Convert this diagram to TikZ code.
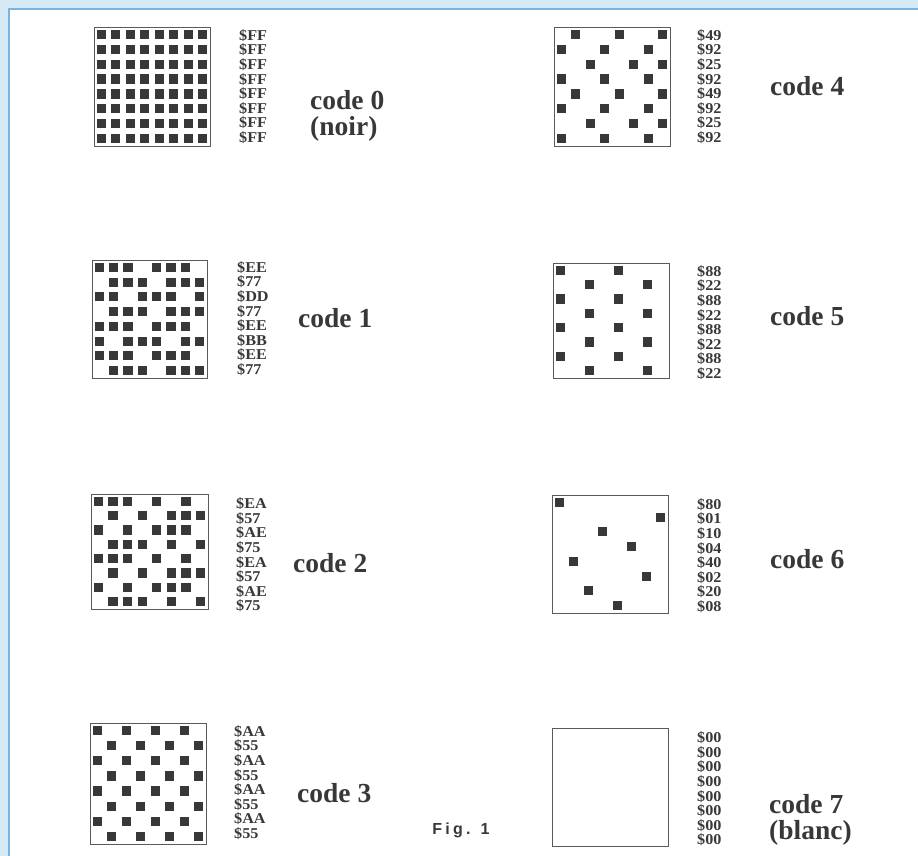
\documentclass[tikz,border=0pt]{standalone}
\usepackage{fontspec}
\setmainfont{Liberation Serif}
\newfontfamily\figfont[LetterSpace=20]{Liberation Sans}
\newfontfamily\hexfont[FakeStretch=1.08]{Liberation Serif}
\definecolor{frameblue}{HTML}{7AB4DC}
\definecolor{outerblue}{HTML}{D6EAF6}
\definecolor{ink}{HTML}{383838}
\definecolor{boxline}{HTML}{5A5A5A}
\tikzset{
  gridbox/.style={draw=boxline, line width=0.9pt, minimum width=116pt,
    minimum height=118pt, anchor=north west, inner sep=0pt},
  dotsq/.style={fill=ink},
  hexlab/.style={anchor=west, align=left, inner sep=0pt, text=ink,
    font=\fontsize{15}{14.6}\hexfont\bfseries},
  codelab/.style={anchor=west, align=left, inner sep=0pt, text=ink,
    font=\fontsize{27.5}{25.5}\selectfont\bfseries},
  figlab/.style={inner sep=0pt, text=ink, font=\fontsize{16}{18}\figfont\bfseries},
}
% #1 x0, #2 y0, #3 w, #4 h, #5 list of 8 row values (MSB left)
\newcommand\mydotgrid[5]{%
  \foreach \v [count=\r from 0] in {#5} {%
    \foreach \c in {0,...,7} {%
      \pgfmathtruncatemacro\bit{mod(floor(\v/2^(7-\c)),2)}%
      \ifnum\bit=1
        \pgfmathsetmacro\cx{#1+(\c+0.5)*#3/8}%
        \pgfmathsetmacro\cy{#2+(\r+0.5)*#4/8}%
        \fill[dotsq] (\cx-4.6,\cy-4.6) rectangle (\cx+4.6,\cy+4.6);
      \fi
    }%
  }%
}
\begin{document}
\begin{tikzpicture}[x=1pt,y=-1pt]
\useasboundingbox (0,0) rectangle (918,856);
% frame
\fill[outerblue] (0,0) rectangle (918,856);
\fill[white] (9,9) rectangle (918,856);
\draw[frameblue, line width=2pt] (9,856) -- (9,9) -- (918,9);

% ---- code 0
\node[gridbox, minimum height=119pt] (b0) at (94,27) {};
\mydotgrid{94}{27}{116}{119}{255,255,255,255,255,255,255,255}
\node[hexlab] (h0) at (239,86.5) {\$FF\\\$FF\\\$FF\\\$FF\\\$FF\\\$FF\\\$FF\\\$FF};
\node[codelab] (c0) at (310,116) {code 0\\(noir)};

% ---- code 1
\node[gridbox, minimum width=115pt] (b1) at (92,260) {};
\mydotgrid{92}{260}{115}{118}{238,119,221,119,238,187,238,119}
\node[hexlab] (h1) at (237,318.5) {\$EE\\\$77\\\$DD\\\$77\\\$EE\\\$BB\\\$EE\\\$77};
\node[codelab] (c1) at (298,318) {code 1};

% ---- code 2
\node[gridbox, minimum width=117pt, minimum height=115pt] (b2) at (91,494) {};
\mydotgrid{91}{494}{117}{115}{234,87,174,117,234,87,174,117}
\node[hexlab] (h2) at (236,555) {\$EA\\\$57\\\$AE\\\$75\\\$EA\\\$57\\\$AE\\\$75};
\node[codelab] (c2) at (293,563) {code 2};

% ---- code 3
\node[gridbox, minimum height=121pt] (b3) at (90,723) {};
\mydotgrid{90}{723}{116}{121}{170,85,170,85,170,85,170,85}
\node[hexlab] (h3) at (234,782.5) {\$AA\\\$55\\\$AA\\\$55\\\$AA\\\$55\\\$AA\\\$55};
\node[codelab] (c3) at (297,793) {code 3};

% ---- code 4
\node[gridbox, minimum height=119pt] (b4) at (554,27) {};
\mydotgrid{554}{27}{116}{119}{73,146,37,146,73,146,37,146}
\node[hexlab] (h4) at (697,86.5) {\$49\\\$92\\\$25\\\$92\\\$49\\\$92\\\$25\\\$92};
\node[codelab] (c4) at (770,86) {code 4};

% ---- code 5
\node[gridbox, minimum height=115pt] (b5) at (553,263) {};
\mydotgrid{553}{263}{116}{115}{136,34,136,34,136,34,136,34}
\node[hexlab] (h5) at (697,322.5) {\$88\\\$22\\\$88\\\$22\\\$88\\\$22\\\$88\\\$22};
\node[codelab] (c5) at (770,316) {code 5};

% ---- code 6
\node[gridbox] (b6) at (552,495) {};
\mydotgrid{552}{495}{116}{118}{128,1,16,4,64,2,32,8}
\node[hexlab] (h6) at (697,555.5) {\$80\\\$01\\\$10\\\$04\\\$40\\\$02\\\$20\\\$08};
\node[codelab] (c6) at (770,559) {code 6};

% ---- code 7
\node[gridbox] (b7) at (552,728) {};
\node[hexlab] (h7) at (697,789) {\$00\\\$00\\\$00\\\$00\\\$00\\\$00\\\$00\\\$00};
\node[codelab] (c7) at (769,820) {code 7\\(blanc)};

\node[figlab] (fig) at (461,830) {Fig. 1};
\end{tikzpicture}
\end{document}
